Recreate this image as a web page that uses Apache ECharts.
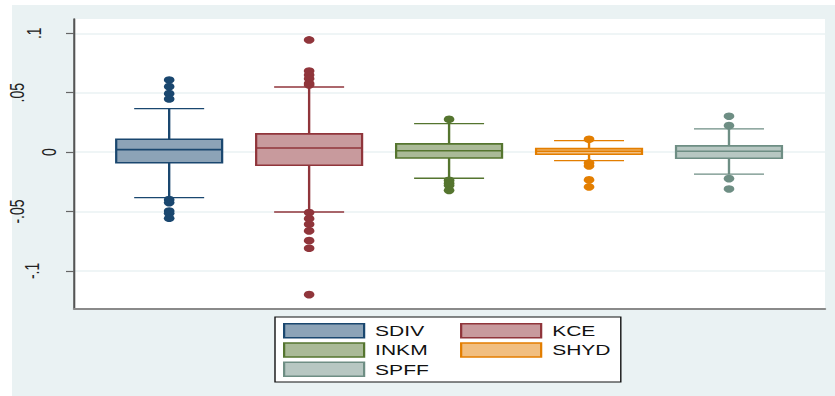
<!DOCTYPE html>
<html>
<head>
<meta charset="utf-8">
<script src="https://cdn.jsdelivr.net/npm/echarts@6/dist/echarts.min.js"></script>
<style>
  html, body { margin: 0; padding: 0; background: #fff; overflow: hidden; }
  #wrap { position: relative; width: 835px; height: 396px; overflow: hidden; }
  #bg { position: absolute; left: 12px; top: 5px; right: 0; bottom: 0; background: #eaf2f3; }
  /* the drawing is laid out narrow and widened horizontally */
  #chart { position: absolute; left: 0; top: 0; width: 596px; height: 396px;
           transform: scaleX(1.40101); transform-origin: 0 0; }
</style>
</head>
<body>
<div id="wrap"><div id="bg"></div><div id="chart"></div></div>
<script>
// ---- data ----
const categories = ['SDIV', 'KCE', 'INKM', 'SHYD', 'SPFF'];
const lowerWhisker = [-0.0383, -0.0504, -0.0220, -0.0072, -0.0186];
const lowerQuartile = [-0.0089, -0.0111, -0.0049, -0.0018, -0.0052];
const median = [0.0021, 0.0035, 0.0012, 0.0007, 0.0007];
const upperQuartile = [0.0108, 0.0153, 0.0069, 0.0029, 0.0052];
const upperWhisker = [0.0366, 0.0548, 0.0239, 0.0096, 0.0195];

const outliersSDIV = [0.0607, 0.0551, 0.0492, 0.0447, -0.0400, -0.0425, -0.0495, -0.0515, -0.0557];
const outliersKCE = [0.0944, 0.0683, 0.0649, 0.0618, 0.0579, 0.0565, -0.0509, -0.0560, -0.0607, -0.0663, -0.0745, -0.0809, -0.1199];
const outliersINKM = [0.0276, -0.0237, -0.0262, -0.0280, -0.0322];
const outliersSHYD = [0.0108, -0.0091, -0.0116, -0.0234, -0.0293];
const outliersSPFF = [0.0302, 0.0223, -0.0223, -0.0310];
const outliers = [outliersSDIV, outliersKCE, outliersINKM, outliersSHYD, outliersSPFF];

const yTickValues = [-0.1, -0.05, 0, 0.05, 0.1];
const yTickLabels = ['-.1', '-.05', '0', '.05', '.1'];

// ---- styling ----
const K = 835 / 596;               // horizontal widening applied by CSS
const sx = v => v / K;             // page px -> drawing px (horizontal only)
const FONT = '"Liberation Sans", Arial, Helvetica, sans-serif';
const edgeColors = ['#1a476f', '#90353b', '#55752f', '#e37e00', '#6e8e84'];
const fillColors = ['#8ca3b7', '#c89a9d', '#aaba97', '#f1be80', '#b7c7c2'];
const BOX_WIDTH = 0.757;           // in x-axis units (boxes sit at 0..4)
const CAP_WIDTH = 0.5;
// extra distance of individual tick labels from the axis
const labelExtraGap = { '-.1': sx(16.5), '-.05': sx(32), '0': 0, '.05': sx(32), '.1': sx(15) };

const chart = echarts.init(document.getElementById('chart'), null, { renderer: 'svg', width: 596, height: 396 });

function boxSeries(i) {
  return {
    type: 'custom',
    name: categories[i],
    z: 2,
    data: [[i, lowerWhisker[i], lowerQuartile[i], median[i], upperQuartile[i], upperWhisker[i]]],
    encode: { x: 0, y: [1, 2, 3, 4, 5] },
    renderItem: (params, api) => {
      const x = api.value(0);
      const p = [1, 2, 3, 4, 5].map(d => api.coord([x, api.value(d)]));
      const cx = p[0][0];
      const bw = api.size([BOX_WIDTH, 0])[0];
      const cw = api.size([CAP_WIDTH, 0])[0];
      const edge = edgeColors[i];
      const seg = (x1, y1, x2, y2, lw) => ({
        type: 'line', shape: { x1, y1, x2, y2 }, style: { stroke: edge, lineWidth: lw }
      });
      return {
        type: 'group',
        children: [
          seg(cx, p[0][1], cx, p[1][1], 1.7),
          seg(cx, p[3][1], cx, p[4][1], 1.7),
          seg(cx - cw / 2, p[0][1], cx + cw / 2, p[0][1], 1.3),
          seg(cx - cw / 2, p[4][1], cx + cw / 2, p[4][1], 1.3),
          {
            type: 'rect',
            shape: { x: cx - bw / 2, y: p[3][1], width: bw, height: p[1][1] - p[3][1] },
            style: { fill: fillColors[i], stroke: edge, lineWidth: 1.6 }
          },
          seg(cx - bw / 2, p[2][1], cx + bw / 2, p[2][1], 1.6)
        ]
      };
    }
  };
}

function outlierSeries(i) {
  return {
    type: 'scatter',
    name: categories[i],
    z: 3,
    symbol: 'circle',
    symbolSize: 7.6,
    itemStyle: { color: edgeColors[i], opacity: 1 },
    data: outliers[i].map(v => [i, v])
  };
}

const rich = {};
yTickLabels.forEach((t, k) => {
  rich['t' + k] = { fontSize: 14, fontFamily: FONT, color: '#222', padding: [0, 0, labelExtraGap[t], 0] };
});

const series = [];
categories.forEach((c, i) => { series.push(boxSeries(i)); });
categories.forEach((c, i) => { series.push(outlierSeries(i)); });

chart.setOption({
  animation: false,
  backgroundColor: 'transparent',
  grid: {
    left: sx(74), right: sx(10), top: 19, bottom: 87.5,
    show: true, backgroundColor: '#fff', borderWidth: 0,
    outerBoundsMode: 'none', containLabel: false
  },
  xAxis: {
    type: 'value', min: -0.68, max: 4.686,
    axisLine: { show: true, onZero: false, lineStyle: { color: '#8a8a8a', width: 1.8 } },
    axisTick: { show: false }, axisLabel: { show: false }, splitLine: { show: false }
  },
  yAxis: {
    type: 'value', min: -0.1316, max: 0.112,
    axisLine: { show: true, onZero: false, lineStyle: { color: '#555', width: 1.5 } },
    axisTick: { show: true, length: sx(8), customValues: yTickValues, lineStyle: { color: '#666', width: 1.2 } },
    splitLine: { show: true, lineStyle: { color: '#eaf2f3', width: 1.5 } },
    axisLabel: {
      customValues: yTickValues,
      rotate: 90, margin: 10.5,
      fontSize: 14, fontFamily: FONT, color: '#222',
      formatter: v => {
        const k = yTickValues.findIndex(t => Math.abs(t - v) < 1e-9);
        return k < 0 ? '' : '{t' + k + '|' + yTickLabels[k] + '}';
      },
      rich: rich
    }
  },
  legend: {
    left: sx(275), top: 317, width: sx(380),
    orient: 'horizontal',
    icon: 'rect',
    itemWidth: sx(80), itemHeight: 14, itemGap: 3.6,
    padding: [6, 7, 5, sx(8)],
    backgroundColor: '#fff', borderColor: '#111', borderWidth: 1, borderRadius: 0,
    selectedMode: false,
    textStyle: { fontFamily: FONT, fontSize: 15, color: '#111', lineHeight: 14 },
    data: categories.map((c, i) => ({
      name: c,
      itemStyle: { color: fillColors[i], borderColor: edgeColors[i], borderWidth: 1.6 },
      textStyle: {
        fontFamily: FONT, fontSize: 15, color: '#111', lineHeight: 14,
        padding: [0, 0, 0, sx(4)],
        width: i % 2 === 0 ? 57 : 42
      }
    }))
  },
  series: series
});
</script>
</body>
</html>
